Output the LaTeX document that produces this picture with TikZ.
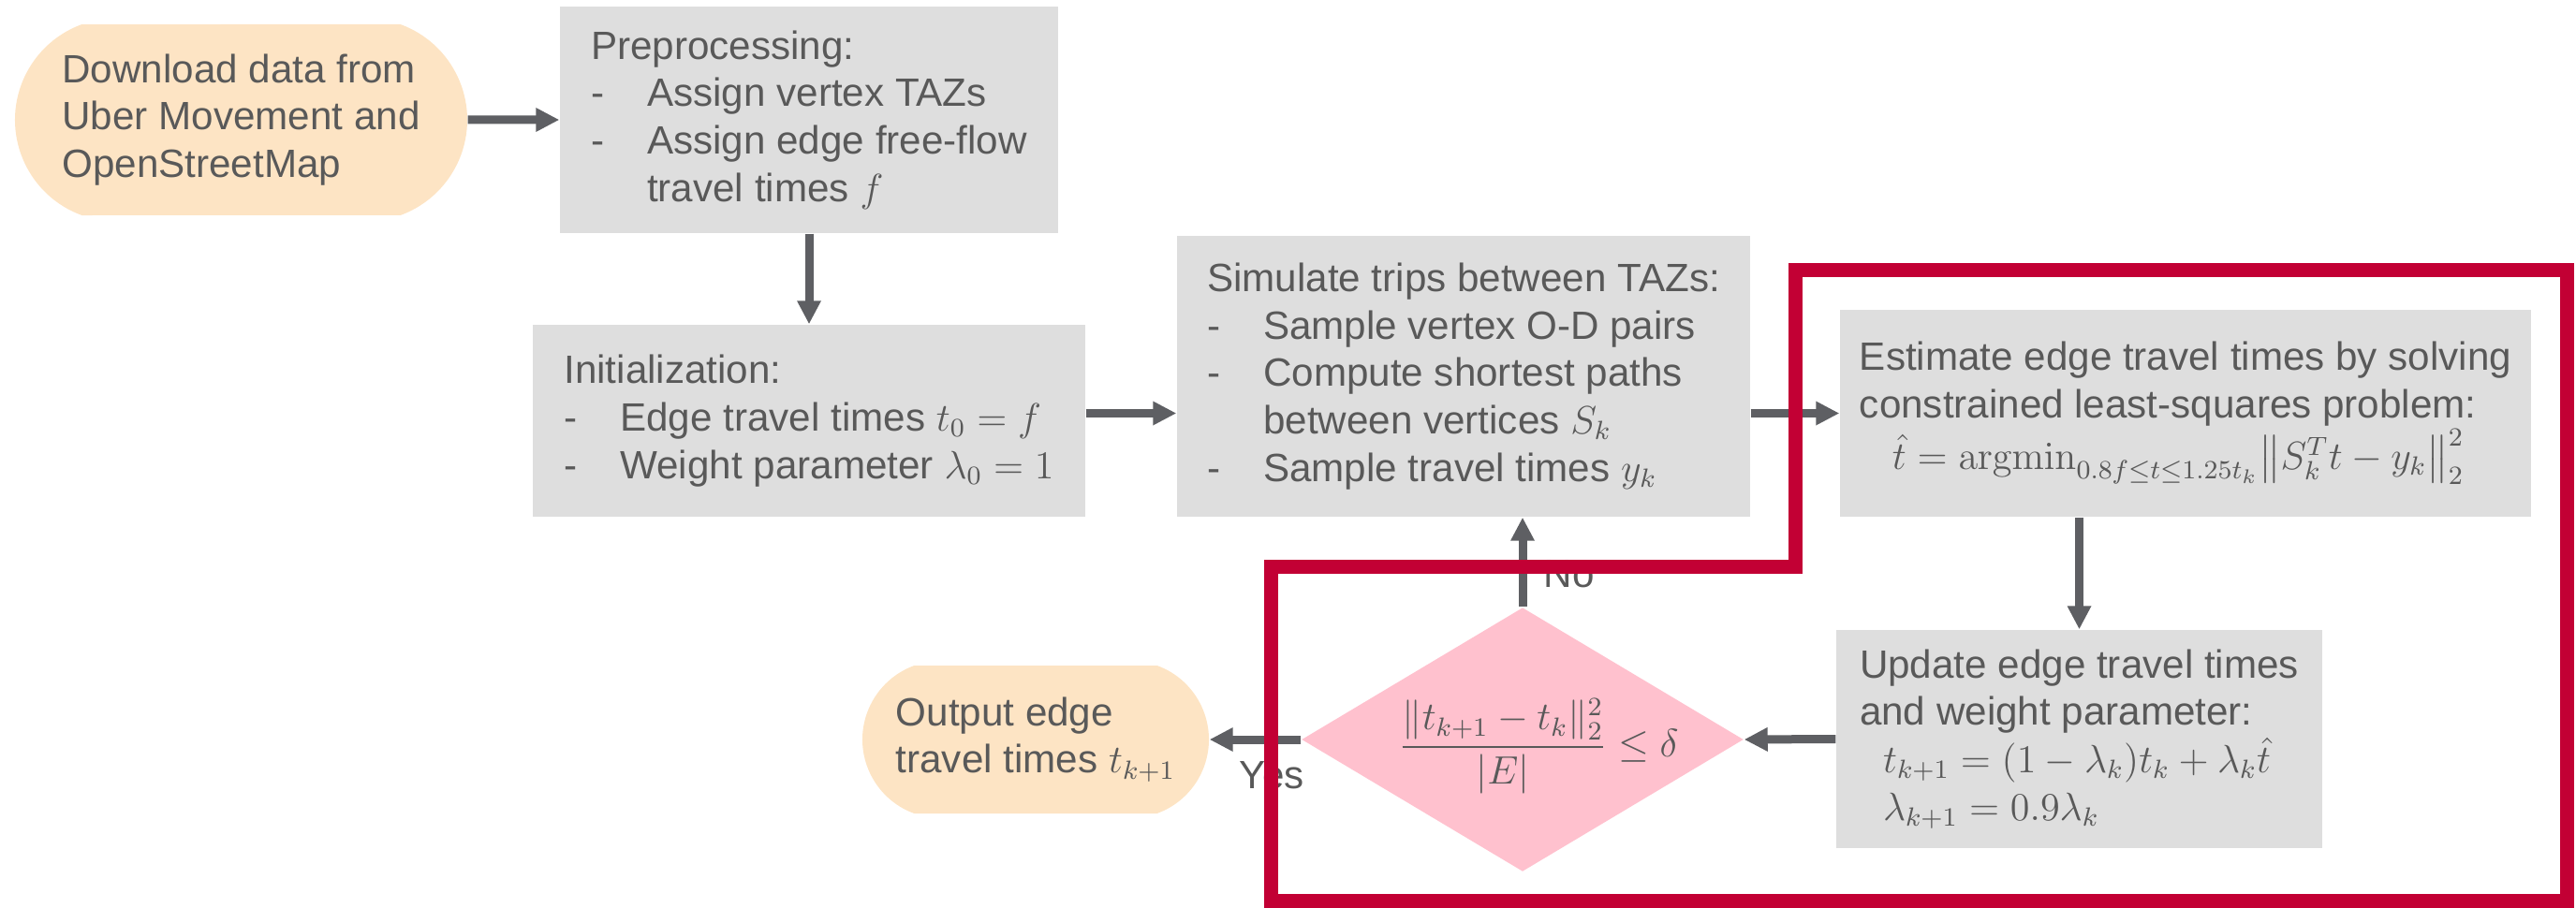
\documentclass[tikz,border=0pt]{standalone}
\usepackage{amsmath}
\usepackage[no-math]{fontspec}
\setmainfont{Liberation Sans}
\usetikzlibrary{arrows.meta,shapes.geometric,shapes.misc}
\definecolor{inkgray}{HTML}{595959}
\definecolor{arrowgray}{HTML}{5E5F63}
\definecolor{boxgray}{HTML}{DEDEDE}
\definecolor{termpeach}{HTML}{FDE4C4}
\definecolor{decpink}{HTML}{FFC1CE}
\definecolor{framered}{HTML}{C20034}

\newcommand{\itemdash}{\makebox[0.6cm][l]{-}}
\newcommand{\itemgap}{\hspace*{0.6cm}}

\begin{document}
\begin{tikzpicture}[x=1cm, y=1cm, >={Triangle[length=0.25cm,width=0.24cm]},
                    every node/.style={text=inkgray, font=\fontsize{12}{14.4}\selectfont},
                    proc/.style={fill=boxgray, inner sep=0pt, align=left},
                    term/.style={rounded rectangle, rounded rectangle arc length=140,
                                 fill=termpeach, inner sep=0pt, align=left},
                    check/.style={diamond, fill=decpink, inner sep=0pt},
                    flow/.style={arrowgray, line width=0.09cm, ->},
                    frame/.style={framered, line width=0.15cm}]

  \useasboundingbox (0,0) rectangle (27.51,9.69);

  %% data source and preparation
  \node[term, minimum width=4.83cm, minimum height=2.04cm] (dl) at (2.575,8.41)
    {Download data from\\Uber Movement and\\OpenStreetMap};
  \node[proc, minimum width=5.32cm, minimum height=2.42cm] (prep) at (8.64,8.41)
    {Preprocessing:\\
     \itemdash Assign vertex TAZs\\
     \itemdash Assign edge free-flow\\
     \itemgap travel times $f$};
  \node[proc, minimum width=5.90cm, minimum height=2.05cm] (init) at (8.64,5.195)
    {Initialization:\\
     \itemdash Edge travel times $t_0=f$\\
     \itemdash Weight parameter $\lambda_0=1$};

  %% one pass of the loop
  \node[proc, minimum width=6.12cm, minimum height=3.00cm] (sim) at (15.63,5.67)
    {Simulate trips between TAZs:\\
     \itemdash Sample vertex O-D pairs\\
     \itemdash Compute shortest paths\\
     \itemgap between vertices $S_k$\\
     \itemdash Sample travel times $y_k$};
  \node[proc, minimum width=7.38cm, minimum height=2.21cm] (est) at (23.34,5.275)
    {Estimate edge travel times by solving\\
     constrained least-squares problem:\\
     \hspace*{0.35cm}$\hat{t}=\mathrm{argmin}_{0.8f\le t\le 1.25t_k}\bigl\|S_k^Tt-y_k\bigr\|_2^2$};
  \node[proc, minimum width=5.19cm, minimum height=2.33cm] (upd) at (22.205,1.795)
    {Update edge travel times\\
     and weight parameter:\\
     \hspace*{0.25cm}$t_{k+1}=(1-\lambda_k)t_k+\lambda_k\hat{t}$\\
     \hspace*{0.25cm}$\lambda_{k+1}=0.9\lambda_k$};

  %% stopping test and result
  \node[check, minimum width=4.72cm, minimum height=2.82cm] (chk) at (16.26,1.79) {};
  \node (crit) at (16.43,1.72)
    {$\dfrac{\|t_{k+1}-t_k\|_2^2}{|E|}\le\delta$};
  \node[term, minimum width=3.70cm, minimum height=1.58cm] (out) at (11.06,1.79)
    {Output edge\\travel times $t_{k+1}$};

  %% connectors
  \draw[flow] (dl) -- (prep);
  \draw[flow] (prep) -- (init);
  \draw[flow] (init.east |- est) -- (sim.west |- est);
  \draw[flow] (sim.east |- est) -- (est);
  \draw[flow] (est.south -| upd) -- (upd);
  \draw[flow] (upd.west) -- (chk.east);
  \draw[flow] (chk.north) -- (chk.north |- sim.south);
  \draw[flow] (chk.west) -- (out.east);
  \node[anchor=base west, inner sep=0pt] (no) at (16.48,3.42) {No};
  \node[anchor=base west, inner sep=0pt] (yes) at (13.23,1.27) {Yes};

  %% highlighted part of the loop
  \draw[frame] (13.57,3.64) -- (19.17,3.64) -- (19.17,6.81) -- (27.41,6.81)
    -- (27.41,0.07) -- (13.57,0.07) -- cycle;

\end{tikzpicture}
\end{document}
